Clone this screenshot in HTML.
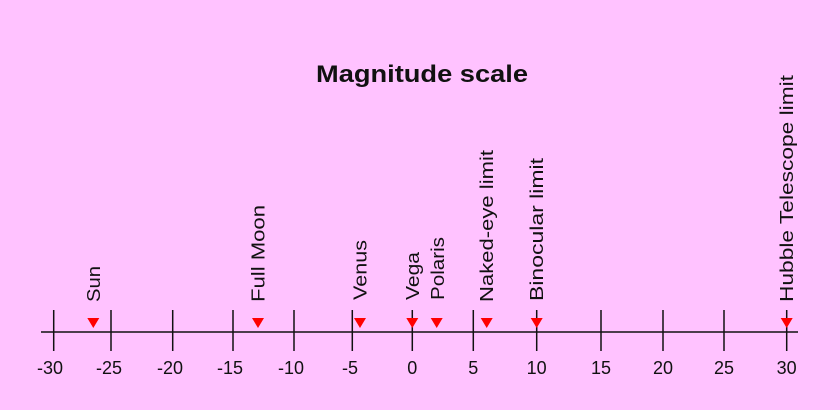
<!DOCTYPE html>
<html><head><style>html,body{margin:0;padding:0;background:#ffc2ff;}svg{display:block}</style></head>
<body>
<svg width="840" height="410" xmlns="http://www.w3.org/2000/svg">
<rect width="840" height="410" fill="#ffc2ff"/>
<text x="422" y="82" text-anchor="middle" font-family="Liberation Sans, sans-serif" font-weight="bold" font-size="24" textLength="212" lengthAdjust="spacingAndGlyphs" fill="#111">Magnitude scale</text>
<line x1="41" y1="332" x2="798" y2="332" stroke="#111" stroke-width="1.5"/>
<g stroke="#111" stroke-width="1.5">
<line x1="53.7" y1="310" x2="53.7" y2="351"/><line x1="111" y1="310" x2="111" y2="351"/>
<line x1="172.7" y1="310" x2="172.7" y2="351"/><line x1="233" y1="310" x2="233" y2="351"/>
<line x1="294" y1="310" x2="294" y2="351"/><line x1="352.3" y1="310" x2="352.3" y2="351"/>
<line x1="412.3" y1="310" x2="412.3" y2="351"/><line x1="473.3" y1="310" x2="473.3" y2="351"/>
<line x1="536.7" y1="310" x2="536.7" y2="351"/><line x1="601" y1="310" x2="601" y2="351"/>
<line x1="663" y1="310" x2="663" y2="351"/><line x1="724" y1="310" x2="724" y2="351"/>
<line x1="786.7" y1="310" x2="786.7" y2="351"/>
</g>
<g font-family="Liberation Sans, sans-serif" font-size="18" fill="#111" text-anchor="middle">
<text x="50" y="374">-30</text><text x="109" y="374">-25</text><text x="170" y="374">-20</text>
<text x="230" y="374">-15</text><text x="291" y="374">-10</text><text x="350" y="374">-5</text>
<text x="412.3" y="374">0</text><text x="473.3" y="374">5</text><text x="536.7" y="374">10</text>
<text x="601" y="374">15</text><text x="663" y="374">20</text><text x="724" y="374">25</text>
<text x="786.7" y="374">30</text>
</g>
<g fill="#ff0000">
<polygon points="87.3,318 99.3,318 93.3,328"/>
<polygon points="252,318 264,318 258,328"/>
<polygon points="354,318 366,318 360,328"/>
<polygon points="406.3,318 418.3,318 412.3,328"/>
<polygon points="430.7,318 442.7,318 436.7,328"/>
<polygon points="480.7,318 492.7,318 486.7,328"/>
<polygon points="530.7,318 542.7,318 536.7,328"/>
<polygon points="780.7,318 792.7,318 786.7,328"/>
</g>
<g font-family="Liberation Sans, sans-serif" font-size="18" fill="#111">
<text transform="translate(100,302) rotate(-90)" textLength="36" lengthAdjust="spacingAndGlyphs">Sun</text>
<text transform="translate(264.5,302) rotate(-90)" textLength="97" lengthAdjust="spacingAndGlyphs">Full Moon</text>
<text transform="translate(366.5,300) rotate(-90)" textLength="60" lengthAdjust="spacingAndGlyphs">Venus</text>
<text transform="translate(419,300) rotate(-90)" textLength="48" lengthAdjust="spacingAndGlyphs">Vega</text>
<text transform="translate(444,300) rotate(-90)" textLength="63" lengthAdjust="spacingAndGlyphs">Polaris</text>
<text transform="translate(493,302) rotate(-90)" textLength="152" lengthAdjust="spacingAndGlyphs">Naked-eye limit</text>
<text transform="translate(543,301) rotate(-90)" textLength="143" lengthAdjust="spacingAndGlyphs">Binocular limit</text>
<text transform="translate(793,302) rotate(-90)" textLength="227" lengthAdjust="spacingAndGlyphs">Hubble Telescope limit</text>
</g>
</svg>
</body></html>
